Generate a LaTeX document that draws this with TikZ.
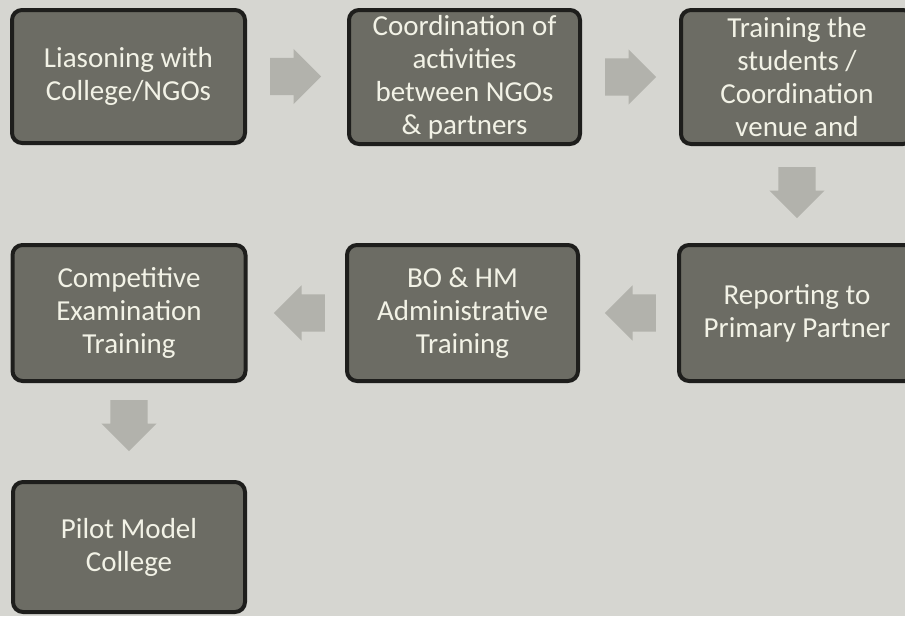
\documentclass[tikz,border=0pt]{standalone}
\usepackage{fontspec}
\setmainfont{Carlito}
\usetikzlibrary{shapes.arrows,calc}
\definecolor{bg}{HTML}{D6D6D1}
\definecolor{boxfill}{HTML}{6C6C64}
\definecolor{boxline}{HTML}{1E1E1C}
\definecolor{arrowfill}{HTML}{B2B2AC}
\definecolor{boxtext}{HTML}{F2F2E6}
\tikzset{
  stepbox/.style={draw=boxline, line width=4pt, fill=boxfill, rounded corners=10pt,
    text=boxtext, align=center, inner sep=0pt,
    font=\fontsize{29}{33}\selectfont},
  blockarrow/.style={single arrow, fill=arrowfill, draw=none, inner xsep=5pt, inner ysep=18.5pt,
    minimum height=51pt, single arrow head extend=9pt, anchor=tail},
  blockarrowv/.style={blockarrow, inner xsep=18.5pt, inner ysep=5pt},
}
\begin{document}
\begin{tikzpicture}[x=1pt,y=-1pt]
\fill[bg] (0,0) rectangle (905,616);
\clip (0,0) rectangle (905,616);
\useasboundingbox (0,0) rectangle (905,616);
\node[stepbox, minimum width=233pt, minimum height=133pt] (b1) at (128.5,76.5) {Liasoning with\\College/NGOs};
\node[stepbox, minimum width=231pt, minimum height=134pt] (b2) at (464.5,77) {Coordination of\\activities\\between NGOs\\\& partners};
\node[stepbox, minimum width=232pt, minimum height=134pt] (b3) at (797,77) {Training the\\students /\\Coordination\\venue and};
\node[stepbox, minimum width=236pt, minimum height=136pt] (b6) at (797,313) {Reporting to\\Primary Partner};
\node[stepbox, minimum width=231pt, minimum height=136pt] (b5) at (462.5,313) {BO \& HM\\Administrative\\Training};
\node[stepbox, minimum width=233pt, minimum height=136pt] (b4) at (129,313) {Competitive\\Examination\\Training};
\node[stepbox, minimum width=232pt, minimum height=130pt] (b7) at (129,547) {Pilot Model\\College};
\node[blockarrow] (a12) at ([xshift=23pt]b1.east) {};
\node[blockarrow] (a23) at ([xshift=23pt]b2.east) {};
\node[blockarrowv, shape border rotate=270] (a36) at ([yshift=-21pt]b3.south) {};
\node[blockarrow, shape border rotate=180] (a65) at ([xshift=-21pt]b6.west) {};
\node[blockarrow, shape border rotate=180] (a54) at ([xshift=-20pt]b5.west) {};
\node[blockarrowv, shape border rotate=270] (a47) at ([yshift=-17pt]b4.south) {};
\end{tikzpicture}
\end{document}
